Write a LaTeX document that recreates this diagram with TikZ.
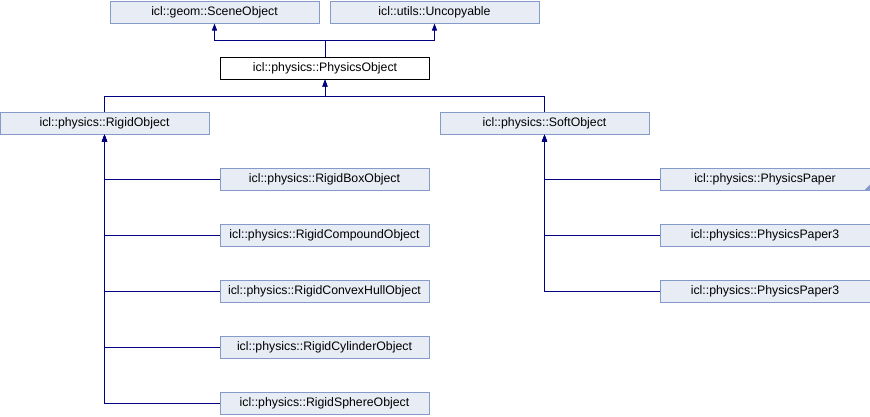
\documentclass[tikz,border=0pt]{standalone}
\usepackage{fontspec}
\setmainfont{Liberation Sans}
\usetikzlibrary{arrows.meta,calc}
\definecolor{boxfill}{HTML}{E8ECF5}
\definecolor{boxline}{HTML}{849AC8}
\definecolor{edge}{HTML}{000080}
\begin{document}
\begin{tikzpicture}[x=1pt,y=-1pt,
  cls/.style={draw=boxline,fill=boxfill,line width=1pt,minimum width=209pt,minimum height=22pt,inner sep=0pt,font=\fontsize{12.3}{14}\selectfont},
  cur/.style={cls,draw=black,fill=white},
  arr/.style={draw=edge,line width=1pt,-{Triangle[width=5pt,length=7pt]}}]
\useasboundingbox (0,0) rectangle (870,416);
\node[cls] (scene) at (214.5,12) {icl::geom::SceneObject};
\node[cls] (uncop) at (434.5,12) {icl::utils::Uncopyable};
\node[cur] (phys) at (325,68) {icl::physics::PhysicsObject};
\node[cls] (rigid) at (104.5,123) {icl::physics::RigidObject};
\node[cls] (soft) at (544.5,123) {icl::physics::SoftObject};
\node[cls] (rbox) at (324.5,179.5) {icl::physics::RigidBoxObject};
\node[cls] (rcomp) at (324.5,235.5) {icl::physics::RigidCompoundObject};
\node[cls] (rconv) at (324.5,291.5) {icl::physics::RigidConvexHullObject};
\node[cls] (rcyl) at (324.5,347.5) {icl::physics::RigidCylinderObject};
\node[cls] (rsph) at (324.5,403.5) {icl::physics::RigidSphereObject};
\node[cls,minimum width=210pt] (pp) at (765,179.5) {icl::physics::PhysicsPaper};
\node[cls,minimum width=210pt] (pp3a) at (765,235.5) {icl::physics::PhysicsPaper3};
\node[cls,minimum width=210pt] (pp3b) at (765,291.5) {icl::physics::PhysicsPaper3};
\fill[boxline] ($(pp.south east)+(-0.5,-0.5)$) -- ++(-6,0) -- ++(6,-6) -- cycle;
\coordinate (j1) at ($(phys.north)+(0,-16.5)$);
\coordinate (j2) at ($(phys.south)+(0,17)$);
\draw[arr] (phys.north) -- (j1) -| (scene.south);
\draw[arr] (phys.north) -- (j1) -| (uncop.south);
\draw[arr] (rigid.north) |- (j2) -- (phys.south);
\draw[arr] (soft.north) |- (j2) -- (phys.south);
\foreach \n in {rbox,rcomp,rconv,rcyl,rsph} \draw[arr] (\n.west) -| (rigid.south);
\foreach \n in {pp,pp3a,pp3b} \draw[arr] (\n.west) -| (soft.south);
\end{tikzpicture}
\end{document}
